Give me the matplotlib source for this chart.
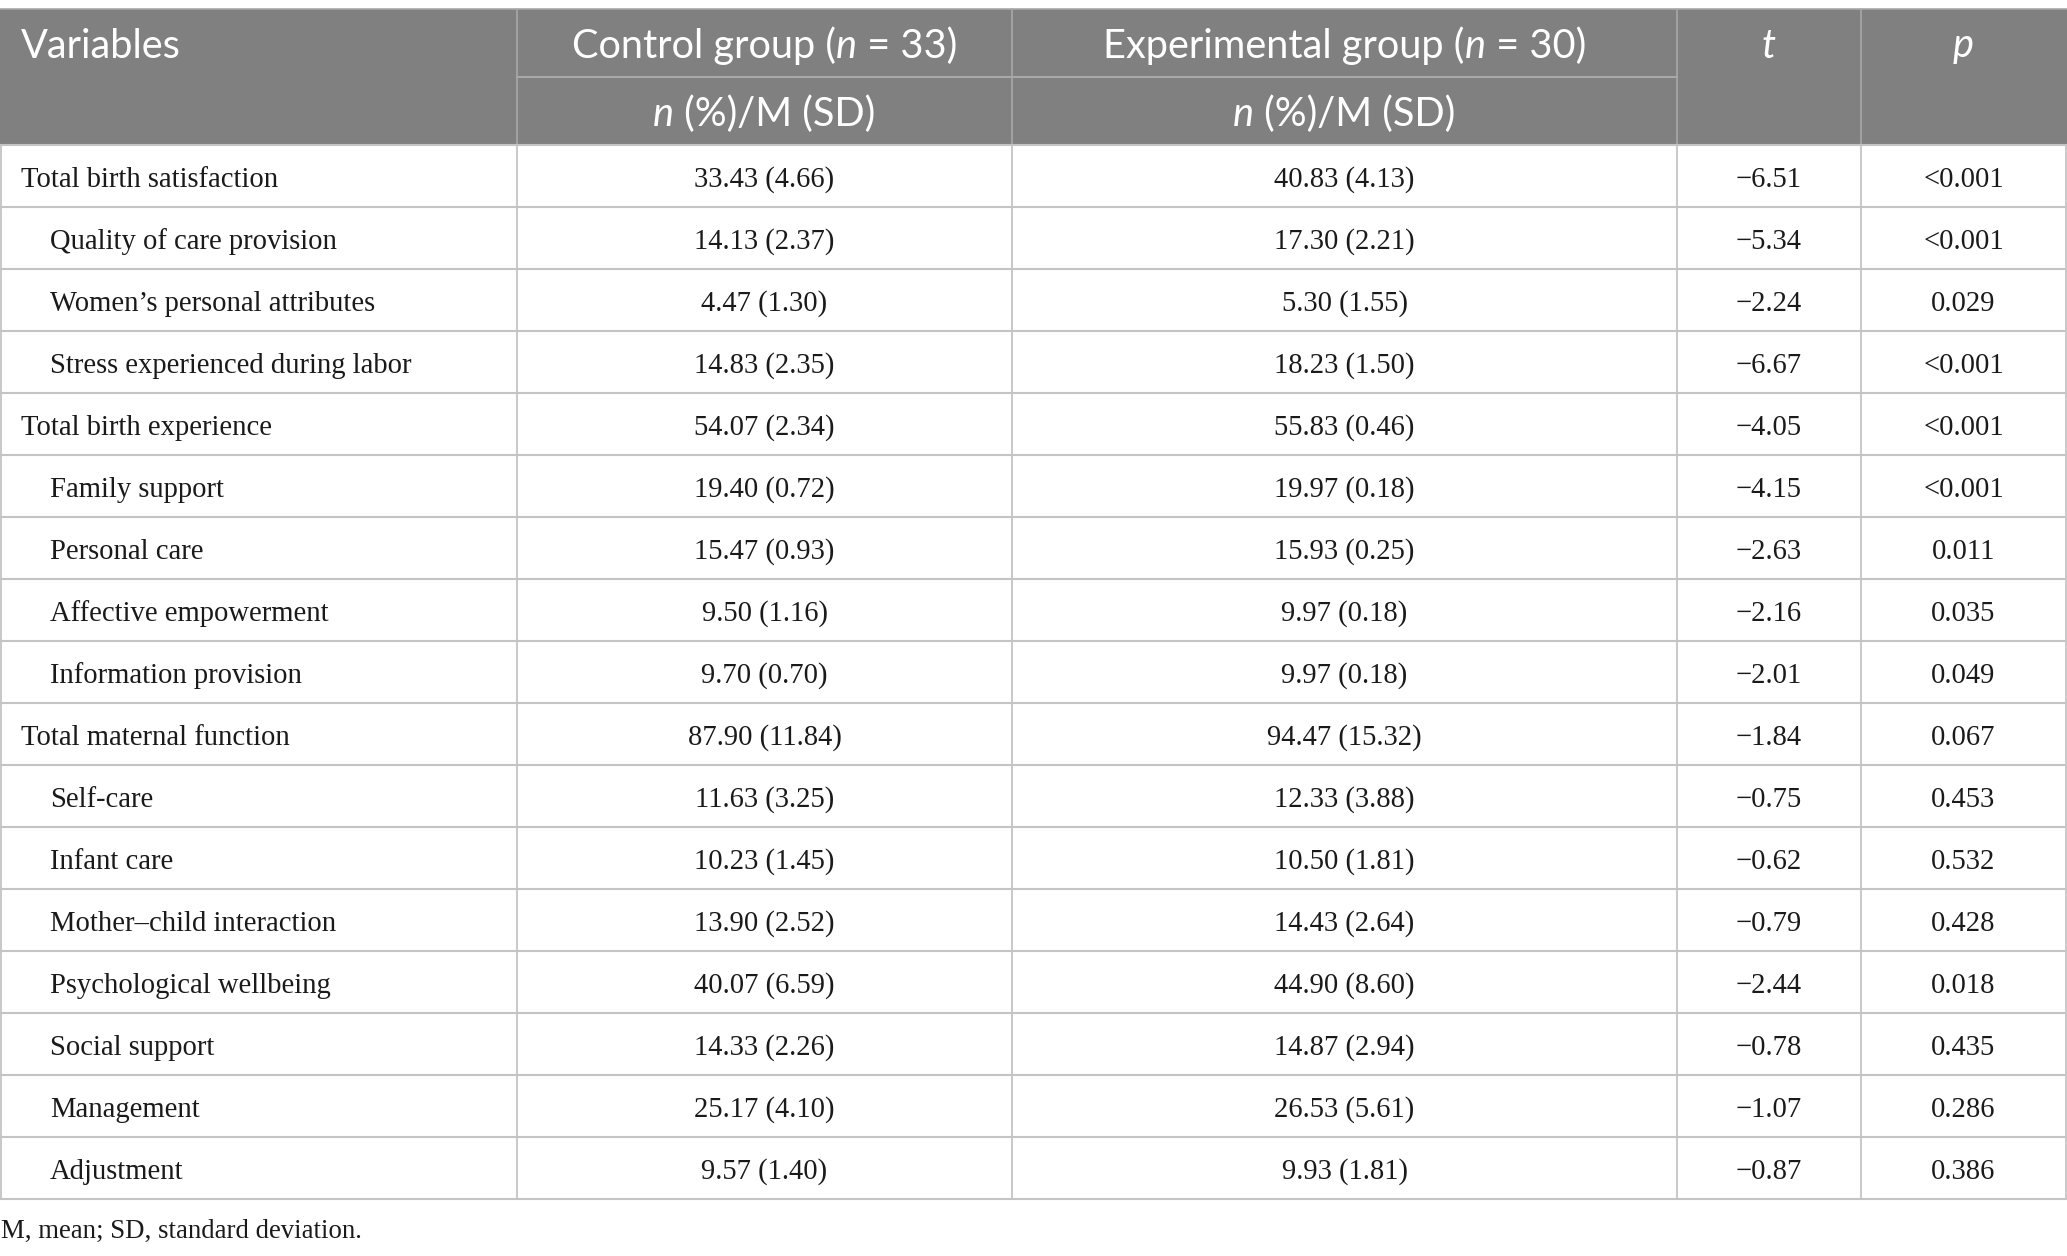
import matplotlib
matplotlib.use("Agg")
import matplotlib.pyplot as plt
from matplotlib.patches import Rectangle

# ---------------- data ----------------
variables = [
    "Total birth satisfaction", "Quality of care provision", "Women\u2019s personal attributes",
    "Stress experienced during labor", "Total birth experience", "Family support",
    "Personal care", "Affective empowerment", "Information provision",
    "Total maternal function", "Self-care", "Infant care", "Mother\u2013child interaction",
    "Psychological wellbeing", "Social support", "Management", "Adjustment",
]
indent = [0, 1, 1, 1, 0, 1, 1, 1, 1, 0, 1, 1, 1, 1, 1, 1, 1]
control = ["33.43 (4.66)", "14.13 (2.37)", "4.47 (1.30)", "14.83 (2.35)", "54.07 (2.34)",
           "19.40 (0.72)", "15.47 (0.93)", "9.50 (1.16)", "9.70 (0.70)", "87.90 (11.84)",
           "11.63 (3.25)", "10.23 (1.45)", "13.90 (2.52)", "40.07 (6.59)", "14.33 (2.26)",
           "25.17 (4.10)", "9.57 (1.40)"]
experimental = ["40.83 (4.13)", "17.30 (2.21)", "5.30 (1.55)", "18.23 (1.50)", "55.83 (0.46)",
                "19.97 (0.18)", "15.93 (0.25)", "9.97 (0.18)", "9.97 (0.18)", "94.47 (15.32)",
                "12.33 (3.88)", "10.50 (1.81)", "14.43 (2.64)", "44.90 (8.60)", "14.87 (2.94)",
                "26.53 (5.61)", "9.93 (1.81)"]
t_values = ["\u22126.51", "\u22125.34", "\u22122.24", "\u22126.67", "\u22124.05", "\u22124.15",
            "\u22122.63", "\u22122.16", "\u22122.01", "\u22121.84", "\u22120.75", "\u22120.62",
            "\u22120.79", "\u22122.44", "\u22120.78", "\u22121.07", "\u22120.87"]
p_values = ["<0.001", "<0.001", "0.029", "<0.001", "<0.001", "<0.001", "0.011", "0.035",
            "0.049", "0.067", "0.453", "0.532", "0.428", "0.018", "0.435", "0.286", "0.386"]
header_groups = [("Control group (", "n", " = 33)"), ("Experimental group (", "n", " = 30)")]
sub_header = ("n", " (%)/M (SD)")
footnote = "M, mean; SD, standard deviation."

# ---------------- layout ----------------
W, H = 2067, 1256
fig = plt.figure(figsize=(W / 100, H / 100), dpi=100)
ax = fig.add_axes([0, 0, 1, 1])
ax.set_xlim(0, W)
ax.set_ylim(H, 0)
ax.axis("off")

col_x = [1, 517, 1012, 1677, 1861, 2066]
head_top, head_mid, head_bot = 9, 77, 145
row_h = 62.0
n_rows = len(variables)
body_bot = head_bot + n_rows * row_h

HEAD_GRAY = "#808080"
HEAD_LINE = "#a8a8a8"
BODY_LINE = "#c4c4c4"
TEXT = "#1a1a1a"
SANS = ["Lato", "Open Sans", "DejaVu Sans"]
SERIF = ["Liberation Serif", "DejaVu Serif"]
HFS = 28.6
BFS = 20.6
FFS = 19.3

ax.add_patch(Rectangle((0, head_top), W, head_bot - head_top, facecolor=HEAD_GRAY,
                       edgecolor="none", zorder=1))
ax.plot([0, W], [head_top, head_top], color=HEAD_LINE, lw=1.2, zorder=2)
for x in col_x[1:-1]:
    ax.plot([x, x], [head_top, head_bot], color=HEAD_LINE, lw=1.2, zorder=2)
ax.plot([col_x[1], col_x[3]], [head_mid, head_mid], color=HEAD_LINE, lw=1.5, zorder=2)

# body lines
for i in range(n_rows + 1):
    y = head_bot + i * row_h
    ax.plot([0, W], [y, y], color=BODY_LINE, lw=1.5, zorder=2)
for x in col_x:
    ax.plot([x, x], [head_bot, body_bot], color=BODY_LINE, lw=1.3, zorder=2)

fig.canvas.draw()
renderer = fig.canvas.get_renderer()


def rich(xc, y, parts, ha="center", **kw):
    """parts: list of (text, italic)"""
    objs = []
    for s, it in parts:
        objs.append(ax.text(0, y, s, style="italic" if it else "normal", va="center",
                            ha="left", zorder=3, **kw))
    widths = [o.get_window_extent(renderer).width for o in objs]
    total = sum(widths)
    x0 = xc - total / 2 if ha == "center" else xc
    for o, w in zip(objs, widths):
        o.set_x(x0)
        x0 += w


hkw = dict(family=SANS, fontsize=HFS, color="white")
ax.text(21, 46, "Variables", ha="left", va="center", zorder=3, **hkw)
for j, (a, b, c) in enumerate(header_groups):
    xc = (col_x[1 + j] + col_x[2 + j]) / 2
    rich(xc, 46, [(a, False), (b, True), (c, False)], **hkw)
    rich(xc, 114, [(sub_header[0], True), (sub_header[1], False)], **hkw)
rich((col_x[3] + col_x[4]) / 2, 46, [("t", True)], **hkw)
rich((col_x[4] + col_x[5]) / 2, 46, [("p", True)], **hkw)

bkw = dict(family=SERIF, color=TEXT, va="center", zorder=3)
for i in range(n_rows):
    y = head_bot + (i + 0.5) * row_h + 4
    ax.text(21 + 29 * indent[i], y, variables[i], ha="left", fontsize=BFS, **bkw)
    ax.text((col_x[1] + col_x[2]) / 2, y, control[i], ha="center", fontsize=BFS, **bkw)
    ax.text((col_x[2] + col_x[3]) / 2, y, experimental[i], ha="center", fontsize=BFS, **bkw)
    ax.text((col_x[3] + col_x[4]) / 2, y, t_values[i], ha="center", fontsize=BFS, **bkw)
    ax.text((col_x[4] + col_x[5]) / 2, y, p_values[i], ha="center", fontsize=BFS, **bkw)

ax.text(1, 1231, footnote, ha="left", fontsize=FFS, **bkw)

fig.savefig("out.png", dpi=100, facecolor="white")
